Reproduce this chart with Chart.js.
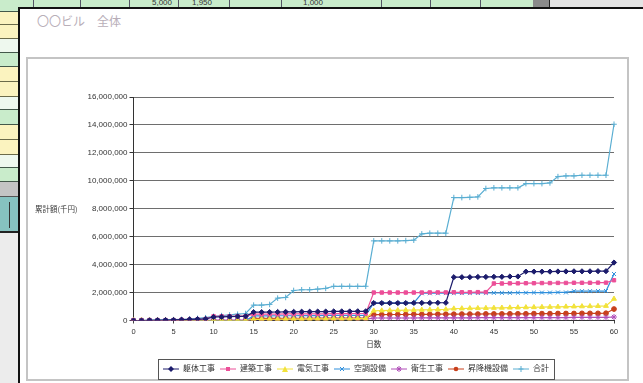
<!DOCTYPE html>
<html>
<head>
<meta charset="utf-8">
<script src="https://cdn.jsdelivr.net/npm/chart.js@4.4.1/dist/chart.umd.min.js"></script>
<style>
  html, body { margin: 0; padding: 0; width: 643px; height: 383px; overflow: hidden; background: #ececec; }
  body { position: relative; font-family: "Liberation Sans", "Noto Sans CJK JP", sans-serif; }
  .cell { position: absolute; box-sizing: border-box; }
  .num { position: absolute; font-size: 8px; color: #333; line-height: 8px; }
  #frame { position: absolute; left: 18px; top: 7px; width: 640px; height: 390px; background: #fff;
           border-left: 2px solid #111; border-top: 2px solid #111; box-sizing: border-box; }
  #title { position: absolute; left: 17px; top: 3px; font-size: 12px; line-height: 17px; color: #b8aeb8;
           font-family: "Noto Sans CJK JP", sans-serif; }
  #plotFrame { position: absolute; left: 6px; top: 48px; width: 603px; height: 324px;
               border: 2px solid #c4c4c4; box-sizing: border-box; background: #fff; }
  #chartBox { position: absolute; left: 8px; top: 50px; width: 599px; height: 324px; }
</style>
</head>
<body>
  <!-- spreadsheet behind the chart window -->
  <div class="cell" style="left:0;top:0;width:18px;height:12px;background:#c9eccb;border-bottom:1px solid #43584a"></div>
  <div class="cell" style="left:0;top:12px;width:18px;height:13px;background:#fbf3bf;border-bottom:1px solid #6b6b4a"></div>
  <div class="cell" style="left:0;top:25px;width:18px;height:14px;background:#fbf3bf;border-bottom:1px solid #6b6b4a"></div>
  <div class="cell" style="left:0;top:39px;width:18px;height:14px;background:#eef8ee;border-bottom:1px solid #43584a"></div>
  <div class="cell" style="left:0;top:53px;width:18px;height:14px;background:#c9eccb;border-bottom:1px solid #43584a"></div>
  <div class="cell" style="left:0;top:67px;width:18px;height:15px;background:#fbf3bf;border-bottom:1px solid #6b6b4a"></div>
  <div class="cell" style="left:0;top:82px;width:18px;height:15px;background:#fbf3bf;border-bottom:1px solid #6b6b4a"></div>
  <div class="cell" style="left:0;top:97px;width:18px;height:13px;background:#eef8ee;border-bottom:1px solid #43584a"></div>
  <div class="cell" style="left:0;top:110px;width:18px;height:15px;background:#c9eccb;border-bottom:1px solid #43584a"></div>
  <div class="cell" style="left:0;top:125px;width:18px;height:15px;background:#fbf3bf;border-bottom:1px solid #6b6b4a"></div>
  <div class="cell" style="left:0;top:140px;width:18px;height:15px;background:#fbf3bf;border-bottom:1px solid #6b6b4a"></div>
  <div class="cell" style="left:0;top:155px;width:18px;height:13px;background:#eef8ee;border-bottom:1px solid #43584a"></div>
  <div class="cell" style="left:0;top:168px;width:18px;height:14px;background:#c9eccb;border-bottom:1px solid #43584a"></div>
  <div class="cell" style="left:0;top:182px;width:18px;height:15px;background:#c4c4c4;border-bottom:1px solid #555"></div>
  <div class="cell" style="left:0;top:197px;width:18px;height:36px;background:#86c2c0;border-bottom:2px solid #222"></div>
  <div class="cell" style="left:9px;top:202px;width:1px;height:26px;background:#333"></div>

  <div class="cell" style="left:18px;top:0;width:531px;height:9px;background:#c9eccb"></div>
  <div class="cell" style="left:33px;top:0;width:1px;height:9px;background:#556"></div>
  <div class="cell" style="left:80px;top:0;width:1px;height:9px;background:#556"></div>
  <div class="cell" style="left:129px;top:0;width:1px;height:9px;background:#556"></div>
  <div class="cell" style="left:178px;top:0;width:1px;height:9px;background:#556"></div>
  <div class="cell" style="left:229px;top:0;width:1px;height:9px;background:#556"></div>
  <div class="cell" style="left:281px;top:0;width:1px;height:9px;background:#556"></div>
  <div class="cell" style="left:381px;top:0;width:1px;height:9px;background:#556"></div>
  <div class="cell" style="left:430px;top:0;width:1px;height:9px;background:#556"></div>
  <div class="cell" style="left:480px;top:0;width:1px;height:9px;background:#556"></div>
  <div class="num" style="left:152px;top:-1px">5,000</div>
  <div class="num" style="left:192px;top:-1px">1,950</div>
  <div class="num" style="left:303px;top:-1px">1,000</div>
  <div class="cell" style="left:533px;top:0;width:16px;height:9px;background:#8a8a8a"></div>
  <div class="cell" style="left:549px;top:0;width:94px;height:9px;background:#e4e4e4;border-left:1px solid #222"></div>

  <div id="frame">
    <div id="title">〇〇ビル　全体</div>
    <div id="plotFrame"></div>
    <div id="chartBox"><canvas id="c" width="599" height="324"></canvas></div>
  </div>

<script>
// Elapsed days on the horizontal axis
const days = [0,1,2,3,4,5,6,7,8,9,10,11,12,13,14,15,16,17,18,19,20,21,22,23,24,25,26,27,28,29,30,
  31,32,33,34,35,36,37,38,39,40,41,42,43,44,45,46,47,48,49,50,51,52,53,54,55,56,57,58,59,60];

// Cumulative amounts (千円) per trade
const kutai = [0,0,10000,20000,30000,40000,60000,80000,100000,120000,250000,260000,280000,290000,300000,
  600000,600000,600000,610000,620000,620000,630000,630000,640000,640000,650000,650000,650000,660000,660000,
  1250000,1250000,1250000,1250000,1250000,1260000,1260000,1260000,1270000,1270000,
  3100000,3100000,3100000,3120000,3120000,3130000,3130000,3150000,3150000,3500000,
  3500000,3500000,3500000,3510000,3510000,3520000,3520000,3520000,3530000,3530000,4150000];
const kenchiku = [0,0,0,0,0,0,50000,60000,80000,100000,300000,300000,300000,310000,310000,
  450000,450000,460000,460000,470000,470000,470000,480000,480000,480000,490000,490000,490000,500000,500000,
  2000000,2000000,2000000,2000000,2000000,2000000,2000000,2010000,2010000,2010000,
  2020000,2020000,2020000,2030000,2030000,2650000,2650000,2660000,2660000,2670000,
  2670000,2680000,2680000,2690000,2690000,2700000,2700000,2700000,2710000,2710000,2880000];
const denki = [0,0,0,0,0,0,0,0,0,0,0,0,0,0,0,
  80000,80000,90000,90000,100000,100000,100000,110000,110000,110000,120000,120000,120000,130000,130000,
  700000,710000,720000,730000,740000,750000,760000,770000,780000,790000,
  850000,860000,870000,880000,890000,900000,910000,920000,930000,940000,
  950000,960000,970000,980000,990000,1000000,1010000,1020000,1030000,1040000,1550000];
const kucho = [0,0,0,0,0,0,0,0,0,0,0,0,0,0,0,
  330000,330000,330000,340000,340000,340000,350000,350000,350000,360000,360000,360000,370000,370000,370000,
  1250000,1250000,1250000,1250000,1260000,1260000,1950000,1950000,1950000,1960000,
  1960000,1960000,1970000,1970000,1970000,1980000,1980000,1980000,1990000,1990000,
  2000000,2000000,2000000,2010000,2010000,2100000,2100000,2100000,2110000,2110000,3330000];
const eisei = [0,0,0,0,0,0,0,0,0,0,20000,20000,20000,20000,20000,
  60000,60000,60000,60000,60000,70000,70000,70000,70000,70000,80000,80000,80000,80000,80000,
  180000,180000,180000,180000,180000,180000,190000,190000,190000,190000,
  190000,190000,190000,200000,200000,200000,200000,200000,200000,210000,
  210000,210000,210000,210000,210000,220000,220000,220000,220000,220000,250000];
const shokoki = [0,0,0,0,0,0,0,0,0,0,0,0,0,0,0,
  150000,150000,150000,150000,160000,160000,160000,160000,170000,170000,170000,170000,180000,180000,180000,
  420000,420000,430000,430000,430000,440000,440000,440000,450000,450000,
  450000,460000,460000,460000,470000,470000,470000,480000,480000,480000,
  490000,490000,490000,500000,500000,500000,510000,510000,510000,520000,820000];
const gokei = [0,0,20000,30000,50000,60000,80000,100000,150000,200000,300000,350000,400000,450000,500000,
  1100000,1100000,1150000,1600000,1650000,2150000,2200000,2200000,2250000,2300000,2450000,2450000,2450000,2450000,2450000,
  5700000,5700000,5700000,5700000,5720000,5750000,6200000,6250000,6250000,6250000,
  8800000,8800000,8820000,8850000,9450000,9500000,9500000,9500000,9500000,9800000,
  9800000,9800000,9850000,10300000,10350000,10350000,10400000,10400000,10400000,10400000,14050000];

// Y-axis tick values and series names
const yTicks = [0,2000000,4000000,6000000,8000000,10000000,12000000,14000000,16000000];
const seriesNames = ['躯体工事','建築工事','電気工事','空調設備','衛生工事','昇降機設備','合計'];
const seriesValues = [kutai, kenchiku, denki, kucho, eisei, shokoki, gokei];

const colors = ['#1c1c6c','#ec4f98','#f2e23a','#2f8fdc','#b04fb8','#c8401c','#5aaed2'];
const markers = ['rectRot','rect','triangle','crossRot','star','circle','cross'];
const radii = [2.6,2.4,2.8,2.8,3,2.4,2.8];

const FONT = '"Liberation Sans", "Noto Sans CJK JP", sans-serif';

// Legend icons: short line with the series marker in the middle
function legendIcon(i) {
  const cv = document.createElement('canvas');
  cv.width = 16; cv.height = 8;
  const g = cv.getContext('2d');
  g.strokeStyle = colors[i]; g.fillStyle = colors[i]; g.lineWidth = 1;
  g.beginPath(); g.moveTo(0, 4); g.lineTo(16, 4); g.stroke();
  const m = markers[i];
  g.beginPath();
  if (m === 'rectRot') { g.moveTo(8,1); g.lineTo(11,4); g.lineTo(8,7); g.lineTo(5,4); g.closePath(); g.fill(); }
  else if (m === 'rect') { g.fillRect(6,2,4,4); }
  else if (m === 'triangle') { g.moveTo(8,1); g.lineTo(11,7); g.lineTo(5,7); g.closePath(); g.fill(); }
  else if (m === 'circle') { g.arc(8,4,2.3,0,Math.PI*2); g.fill(); }
  else {
    if (m === 'crossRot' || m === 'star') { g.moveTo(6,2); g.lineTo(10,6); g.moveTo(10,2); g.lineTo(6,6); }
    if (m === 'cross' || m === 'star') { g.moveTo(8,1); g.lineTo(8,7); g.moveTo(5.5,4); g.lineTo(10.5,4); }
    g.stroke();
  }
  return cv;
}

const datasets = seriesNames.map((name, i) => ({
  label: name,
  data: seriesValues[i],
  borderColor: colors[i],
  backgroundColor: colors[i],
  borderWidth: 1.2,
  pointStyle: markers[i],
  pointRadius: radii[i],
  pointBorderWidth: 1,
  pointBorderColor: colors[i],
  pointBackgroundColor: colors[i],
  tension: 0
}));

// Horizontal y-axis title, legend nudged right of centre, and a frame around the legend items
const extras = {
  id: 'extras',
  afterLayout(chart) {
    const lg = chart.legend;
    lg.left += 35;
    lg.right += 35;
  },
  afterDraw(chart) {
    const ctx = chart.ctx;
    const y = chart.scales.y;
    ctx.save();
    ctx.font = '7.5px "Noto Sans CJK JP", sans-serif';
    ctx.fillStyle = '#3a3a3a';
    ctx.textBaseline = 'middle';
    ctx.textAlign = 'left';
    ctx.fillText('累計額(千円)', 7, y.getPixelForValue(8000000));
    const boxes = chart.legend.legendHitBoxes;
    if (boxes && boxes.length) {
      let l = Infinity, r = -Infinity, t = Infinity, b = -Infinity;
      boxes.forEach(h => { l = Math.min(l, h.left); r = Math.max(r, h.left + h.width);
                           t = Math.min(t, h.top); b = Math.max(b, h.top + h.height); });
      ctx.strokeStyle = '#555';
      ctx.lineWidth = 1;
      ctx.strokeRect(Math.round(l - 5) + 0.5, Math.round(t - 6) + 0.5, Math.round(r - l + 10), Math.round(b - t + 12));
    }
    ctx.restore();
  }
};

new Chart(document.getElementById('c'), {
  type: 'line',
  data: { labels: days, datasets },
  plugins: [extras],
  options: {
    responsive: false,
    animation: false,
    layout: { padding: { top: 38, right: 13, bottom: 0, left: 0 } },
    plugins: {
      tooltip: { enabled: false },
      legend: {
        position: 'bottom',
        labels: {
          font: { size: 8, family: FONT },
          color: '#333',
          boxWidth: 16,
          boxHeight: 8,
          pointStyleWidth: 16,
          padding: 5,
          usePointStyle: true,
          generateLabels(chart) {
            return chart.data.datasets.map((ds, i) => ({
              text: ds.label, datasetIndex: i, pointStyle: legendIcon(i),
              fillStyle: ds.borderColor, strokeStyle: ds.borderColor, lineWidth: 0, hidden: false, fontColor: '#333'
            }));
          }
        }
      }
    },
    scales: {
      x: {
        type: 'category',
        offset: false,
        afterFit(scale) { scale.height = 39.5; },
        grid: { drawOnChartArea: false, drawTicks: true, tickLength: 3, color: '#444' },
        border: { color: '#333', width: 1 },
        ticks: {
          autoSkip: false, maxRotation: 0, padding: 3.5,
          font: { size: 7.5, family: FONT }, color: '#333',
          callback(v, idx) { return days[idx] % 5 === 0 ? String(days[idx]) : null; }
        },
        title: { display: true, text: '日数', font: { size: 7.5, family: FONT }, color: '#333', padding: { top: 0, bottom: 11 } }
      },
      y: {
        min: 0, max: 16000000,
        afterFit(scale) { scale.width = 105.5; },
        afterBuildTicks(scale) { scale.ticks = yTicks.map(v => ({ value: v })); },
        grid: { color: '#6e6e6e', lineWidth: 1, tickLength: 4, tickColor: '#333' },
        border: { color: '#333', width: 1 },
        ticks: {
          padding: 2, font: { size: 8, family: FONT }, color: '#333',
          callback(v) { return v.toLocaleString('en-US'); }
        }
      }
    }
  }
});
</script>
</body>
</html>
